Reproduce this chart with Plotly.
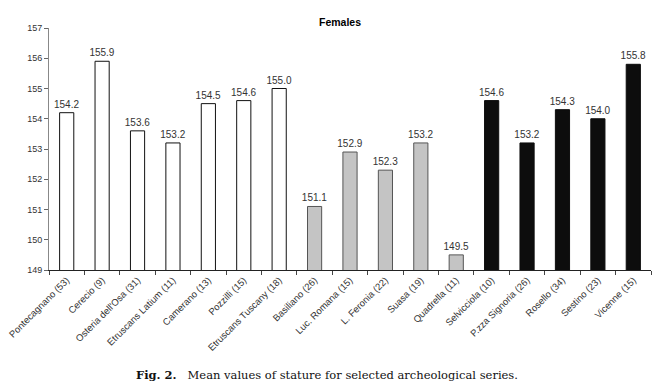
import plotly.graph_objects as go

categories = ["Pontecagnano (53)", "Cerecio (9)", "Osteria dell'Osa (31)", "Etruscans Latium (11)",
              "Camerano (13)", "Pozzilli (15)", "Etruscans Tuscany (18)", "Basiliano (26)",
              "Luc. Romana (15)", "L. Feronia (22)", "Suasa (19)", "Quadrella (11)",
              "Selvicciola (10)", "P.zza Signoria (26)", "Rosello (34)", "Sestino (23)", "Vicenne (15)"]
stature = [154.2, 155.9, 153.6, 153.2, 154.5, 154.6, 155.0, 151.1, 152.9, 152.3, 153.2, 149.5,
           154.6, 153.2, 154.3, 154.0, 155.8]
group = ["w"] * 7 + ["g"] * 5 + ["b"] * 5
y_ticks = [149, 150, 151, 152, 153, 154, 155, 156, 157]

fill = {"w": "#ffffff", "g": "#c4c4c4", "b": "#0d0d0d"}
edge = {"w": "#111111", "g": "#555555", "b": "#0d0d0d"}

fig = go.Figure(go.Bar(
    x=categories, y=stature,
    marker=dict(color=[fill[g] for g in group],
                line=dict(color=[edge[g] for g in group], width=1)),
    width=0.4,
    text=[f"{v:.1f}" for v in stature], textposition="outside", constraintext="none",
    textfont=dict(family="Liberation Sans, Arial", size=10, color="#333333"),
    cliponaxis=False,
))

fig.update_layout(
    width=664, height=387,
    margin=dict(l=49, r=13, t=28, b=117, autoexpand=False),
    plot_bgcolor="white", paper_bgcolor="white",
    showlegend=False,
    font=dict(family="Liberation Sans, Arial", size=9.5, color="#333333"),
    title=dict(text="<b>Females</b>", x=340/664, xref="container", xanchor="center",
               y=1 - 22/387, yref="container", yanchor="middle",
               font=dict(family="Liberation Sans, Arial", size=10.5, color="#000000")),
    annotations=[dict(
        text="<b>Fig. 2.</b>&nbsp;&nbsp;&nbsp;Mean values of stature for selected archeological series.",
        xref="paper", yref="paper", x=(327 - 49) / 601, y=-(375 - 270) / 242,
        xanchor="center", yanchor="middle", showarrow=False,
        font=dict(family="DejaVu Serif, serif", size=11.5, color="#111111"))],
)
fig.update_xaxes(showline=True, linecolor="#222222", linewidth=1, ticks="outside",
                 tickson="boundaries", ticklen=4, tickcolor="#444444", tickangle=-45,
                 showgrid=False, automargin=False, tickfont=dict(size=9.5, color="#333333"))
fig.update_yaxes(range=[149, 157], tickvals=y_ticks, showline=True, linecolor="#888888",
                 linewidth=1, ticks="outside", ticklen=4, tickcolor="#666666",
                 showgrid=False, zeroline=False, automargin=False,
                 tickfont=dict(size=9, color="#333333"))

fig.write_html("out.html", config={"displayModeBar": False},
               post_script="document.body.style.margin='0';")
